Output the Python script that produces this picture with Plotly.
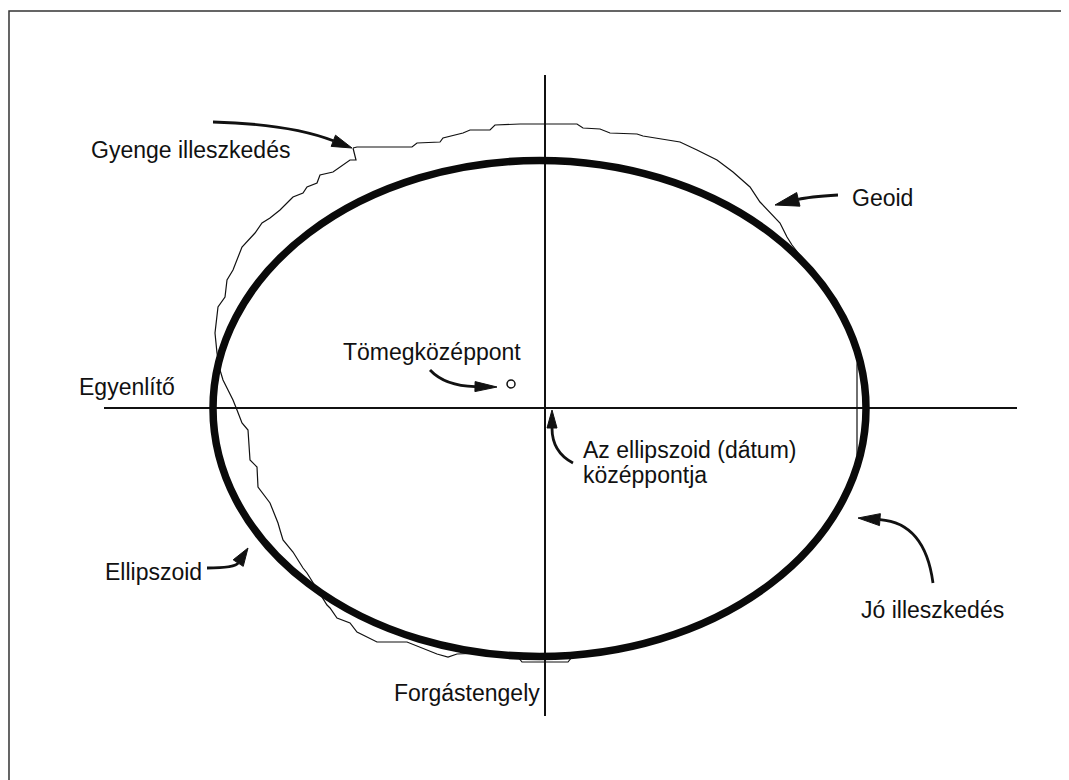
import numpy as np
import plotly.graph_objects as go

# ---------------- data (diagram units, origin at the axes crossing, y up) ----------------
ELLIPSE_CENTER = (-5.5, -0.5)
ELLIPSE_SEMI_AXES = (326.5, 248.0)

EQUATOR_X = [-441, 472]
EQUATOR_Y = [0, 0]
ROT_AXIS_X = [0, 0]
ROT_AXIS_Y = [333, -308]

GEOID_X = [-192, -188, -133, -128, -105, -102, -82, -75, -55, -50, -25, 32, 38, 55, 65, 92, 98,
           122, 135, 152, 172, 188, 195, 205, 215, 227, 235, 242, 247, 277, 301, 313, 312, 312,
           314, 301, 277, 245, 204, 158, 106, 51, 27, 23, -23, -27, -63, -88, -97, -108, -138,
           -168, -188, -195, -208, -215, -218, -238, -242, -252, -262, -265, -267, -275, -282,
           -287, -288, -295, -297, -303, -308, -312, -317, -322, -325, -328, -330, -327, -320,
           -318, -312, -307, -303, -290, -283, -275, -265, -255, -252, -242, -238, -228, -225,
           -212, -205, -195, -189, -192]
GEOID_Y = [260, 261, 261, 265, 266, 270, 275, 278, 278, 283, 284, 284, 280, 279, 275, 274, 272,
           268, 266, 258, 248, 236, 230, 221, 206, 193, 185, 171, 163, 124, 84, 51, 43, -47,
           -52, -85, -124, -160, -190, -215, -233, -245, -249, -254, -254, -249, -245, -246, -249,
           -246, -234, -234, -224, -215, -210, -200, -197, -165, -160, -144, -132, -122, -115,
           -95, -85, -79, -59, -52, -22, -15, -2, 8, 18, 28, 38, 55, 75, 101, 111, 128, 138, 151,
           161, 175, 185, 190, 198, 208, 211, 215, 221, 225, 233, 236, 241, 248, 248, 260]

MASS_CENTER = (-34, 24)

LABELS = ["Gyenge illeszkedés", "Geoid", "Tömegközéppont", "Egyenlítő",
          "Az ellipszoid (dátum)", "középpontja", "Ellipszoid", "Jó illeszkedés", "Forgástengely"]
LABEL_X = [-456, 305, -22, -468, 36, 36, -442, 314, -3]
LABEL_Y = [258, 210, 56, 21, -42, -67, -164, -202, -285]
LABEL_ANCHOR = ["left", "left", "right", "left", "left", "left", "left", "left", "right"]

# arrows: start, control, end (quadratic curve)
ARROW_START = [(-332, 286), (293, 213), (-115, 38), (28, -55), (388, -175), (-338, -160)]
ARROW_CTRL = [(-255, 284), (263, 211), (-100, 22), (7, -44), (380, -115), (-310, -160)]
ARROW_END = [(-193, 260), (230, 203), (-48, 21), (7, -2), (313, -110), (-297, -140)]
ARROW_HEAD_LEN = [20, 24, 22, 18, 22, 18]
ARROW_HEAD_HALF = [6, 7, 5, 5, 6, 6]

# ---------------- figure ----------------
# the page body has an 8px margin, so the figure is sized to fit inside the window
W, H = 1061, 772
X_RANGE = [-537, 524]
Y_RANGE = [-372, 400]

fig = go.Figure()

fig.add_trace(go.Scatter(x=EQUATOR_X, y=EQUATOR_Y, mode="lines",
                         line=dict(color="#111", width=2), hoverinfo="skip"))
fig.add_trace(go.Scatter(x=ROT_AXIS_X, y=ROT_AXIS_Y, mode="lines",
                         line=dict(color="#111", width=2), hoverinfo="skip"))
fig.add_trace(go.Scatter(x=GEOID_X, y=GEOID_Y, mode="lines",
                         line=dict(color="#111", width=1.2), hoverinfo="skip"))
fig.add_trace(go.Scatter(x=[MASS_CENTER[0]], y=[MASS_CENTER[1]], mode="markers",
                         marker=dict(symbol="circle-open", size=8, color="#111",
                                     line=dict(width=1.5, color="#111")),
                         hoverinfo="skip"))

cx, cy = ELLIPSE_CENTER
a, b = ELLIPSE_SEMI_AXES
fx0 = 1 / W
fy1 = 1 - 3 / H
shapes = [
    dict(type="circle", xref="x", yref="y", x0=cx - a, x1=cx + a, y0=cy - b, y1=cy + b,
         line=dict(color="#0a0a0a", width=7.5), layer="above"),
    # page frame: only its left and top edges fall inside the window
    dict(type="path", xref="paper", yref="paper",
         path=f"M {fx0:.5f},-0.02 L {fx0:.5f},{fy1:.5f} L 1.02,{fy1:.5f}",
         line=dict(color="#333", width=1.5)),
]

for s, c, e, hl, hw in zip(ARROW_START, ARROW_CTRL, ARROW_END, ARROW_HEAD_LEN, ARROW_HEAD_HALF):
    d = np.array(e, float) - np.array(c, float)
    u = d / np.linalg.norm(d)
    n = np.array([-u[1], u[0]])
    tip = np.array(e, float)
    base = tip - hl * u
    p1 = base + hw * n
    p2 = base - hw * n
    shapes.append(dict(type="path", xref="x", yref="y",
                       path=f"M {s[0]},{s[1]} Q {c[0]},{c[1]} {base[0]:.2f},{base[1]:.2f}",
                       line=dict(color="#111", width=2.8)))
    shapes.append(dict(type="path", xref="x", yref="y",
                       path=f"M {tip[0]:.2f},{tip[1]:.2f} L {p1[0]:.2f},{p1[1]:.2f} "
                            f"L {p2[0]:.2f},{p2[1]:.2f} Z",
                       fillcolor="#111", line=dict(color="#111", width=1)))

annotations = []
for t, x, y, anc in zip(LABELS, LABEL_X, LABEL_Y, LABEL_ANCHOR):
    annotations.append(dict(text=t, x=x, y=y, xref="x", yref="y", showarrow=False,
                            xanchor=anc, yanchor="middle",
                            font=dict(family="Liberation Sans, Arial, sans-serif",
                                      size=23, color="#111")))

fig.update_layout(
    width=W, height=H,
    margin=dict(l=0, r=0, t=0, b=0),
    paper_bgcolor="white", plot_bgcolor="white",
    showlegend=False,
    shapes=shapes, annotations=annotations,
    xaxis=dict(range=X_RANGE, visible=False, fixedrange=True),
    yaxis=dict(range=Y_RANGE, visible=False, fixedrange=True),
)

fig.write_html("out.html")
